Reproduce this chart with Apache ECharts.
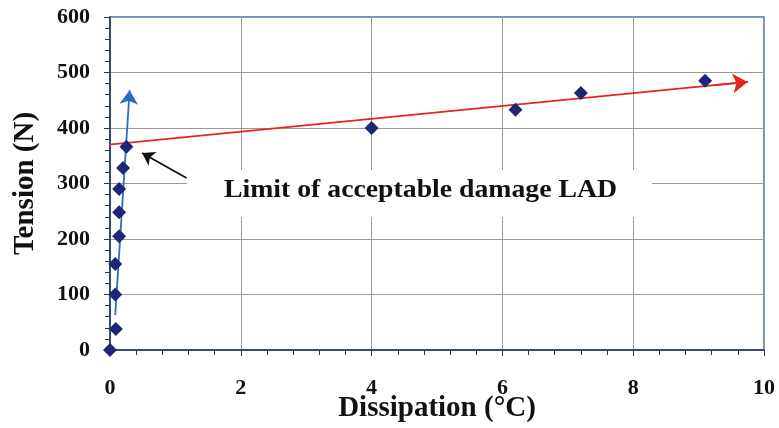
<!DOCTYPE html>
<html>
<head>
<meta charset="utf-8">
<script src="https://cdn.jsdelivr.net/npm/echarts@6/dist/echarts.min.js"></script>
<style>
    html, body { margin: 0; padding: 0; background: #fff; }
    #chart { width: 779px; height: 428px; }
</style>
</head>
<body>
<div id="chart"></div>
<script>
    // measured points (dissipation °C, tension N)
    const dissipation = [0, 0.09, 0.08, 0.08, 0.14, 0.14, 0.14, 0.2, 0.25, 4, 6.2, 7.2, 9.1]
    const tension = [0, 38, 100, 155, 205, 248, 290, 328, 366, 400, 433, 463, 485]

    // hand-drawn lines [start, end] as [x, y]
    const redTrend = [[-0.2, 368], [9.75, 483]]
    const blueTrend = [[0.08, 63], [0.3, 468]]
    const ladArrow = [[0.49, 355], [1.17, 310]]

    const xTicks = [0, 2, 4, 6, 8, 10]
    const yTicks = [0, 100, 200, 300, 400, 500, 600]

    const font = 'Liberation Serif, Times New Roman, serif'
    const chart = echarts.init(document.getElementById('chart'))

    // short piece at the end of the red line, only used to draw its arrow head
    const along = (seg, t) => [seg[0][0] + t * (seg[1][0] - seg[0][0]), seg[0][1] + t * (seg[1][1] - seg[0][1])]
    const redHead = [along(redTrend, 0.95), redTrend[1]]

    chart.setOption({
        animation: false,
        grid: {
            left: 110, right: 15, top: 17, bottom: 78,
            outerBoundsMode: 'none',
            show: true, borderColor: '#2f6fd1', borderWidth: 1.5
        },
        xAxis: {
            type: 'value', min: xTicks[0], max: xTicks[xTicks.length - 1], interval: 2,
            name: 'Dissipation (°C)', nameLocation: 'middle', nameGap: 44,
            nameMoveOverlap: false,
            nameTextStyle: { fontFamily: font, fontWeight: 'bold', fontSize: 29, color: '#111' },
            axisLine: { lineStyle: { color: '#1f2f6e', width: 1.5 } },
            axisTick: { length: 6, lineStyle: { color: '#333' } },
            minorTick: { show: true, splitNumber: 5, length: 5, lineStyle: { color: '#333' } },
            axisLabel: { margin: 27, fontFamily: font, fontWeight: 'bold', fontSize: 22, color: '#111' },
            splitLine: { show: true, lineStyle: { color: '#9a9a9a', width: 1 } }
        },
        yAxis: {
            type: 'value', min: yTicks[0], max: yTicks[yTicks.length - 1], interval: 100,
            name: 'Tension (N)', nameLocation: 'middle', nameGap: 70, nameRotate: 90,
            nameMoveOverlap: false,
            nameTextStyle: { fontFamily: font, fontWeight: 'bold', fontSize: 29, color: '#111' },
            axisLine: { show: true, lineStyle: { color: '#1f2f6e', width: 1.5 } },
            axisTick: { show: true, length: 6, lineStyle: { color: '#333' } },
            minorTick: { show: true, splitNumber: 5, length: 5, lineStyle: { color: '#333' } },
            axisLabel: { margin: 20, fontFamily: font, fontWeight: 'bold', fontSize: 22, color: '#111' },
            splitLine: { show: true, lineStyle: { color: '#9a9a9a', width: 1 } }
        },
        graphic: [{
            // white box behind the annotation hides the gridlines
            type: 'rect', z: 1,
            shape: { x: 187, y: 170, width: 465, height: 47 },
            style: { fill: '#fff' }
        }, {
            type: 'text', x: 224, y: 191, scaleX: 1.11, z: 2,
            style: {
                text: 'Limit of acceptable damage LAD',
                font: 'bold 25px ' + font, fill: '#111',
                verticalAlign: 'middle'
            }
        }],
        series: [{
            type: 'line',
            data: redTrend,
            clip: false,
            showSymbol: false,
            silent: true,
            lineStyle: { color: '#e3261f', width: 1.8 },
            z: 3,
            markLine: {
                silent: true,
                animation: false,
                label: { show: false },
                symbol: ['none', 'arrow'],
                symbolSize: 15,
                lineStyle: { color: '#e3261f', width: 1.8, type: 'solid' },
                data: [[{ coord: redHead[0] }, { coord: redHead[1] }]]
            }
        }, {
            type: 'scatter',
            data: dissipation.map((x, i) => [x, tension[i]]),
            symbol: 'diamond',
            symbolSize: 14,
            itemStyle: { color: '#1d2775', opacity: 1 },
            z: 5,
            markLine: {
                silent: true,
                animation: false,
                label: { show: false },
                data: [
                    [
                        { coord: blueTrend[0], symbol: 'none', lineStyle: { color: '#2b6cc4', width: 1.8, type: 'solid' } },
                        { coord: blueTrend[1], symbol: 'arrow', symbolSize: 14 }
                    ],
                    [
                        { coord: ladArrow[0], symbol: 'arrow', symbolSize: 12, lineStyle: { color: '#111', width: 1.8, type: 'solid' } },
                        { coord: ladArrow[1], symbol: 'none' }
                    ]
                ]
            }
        }]
    })
</script>
</body>
</html>
